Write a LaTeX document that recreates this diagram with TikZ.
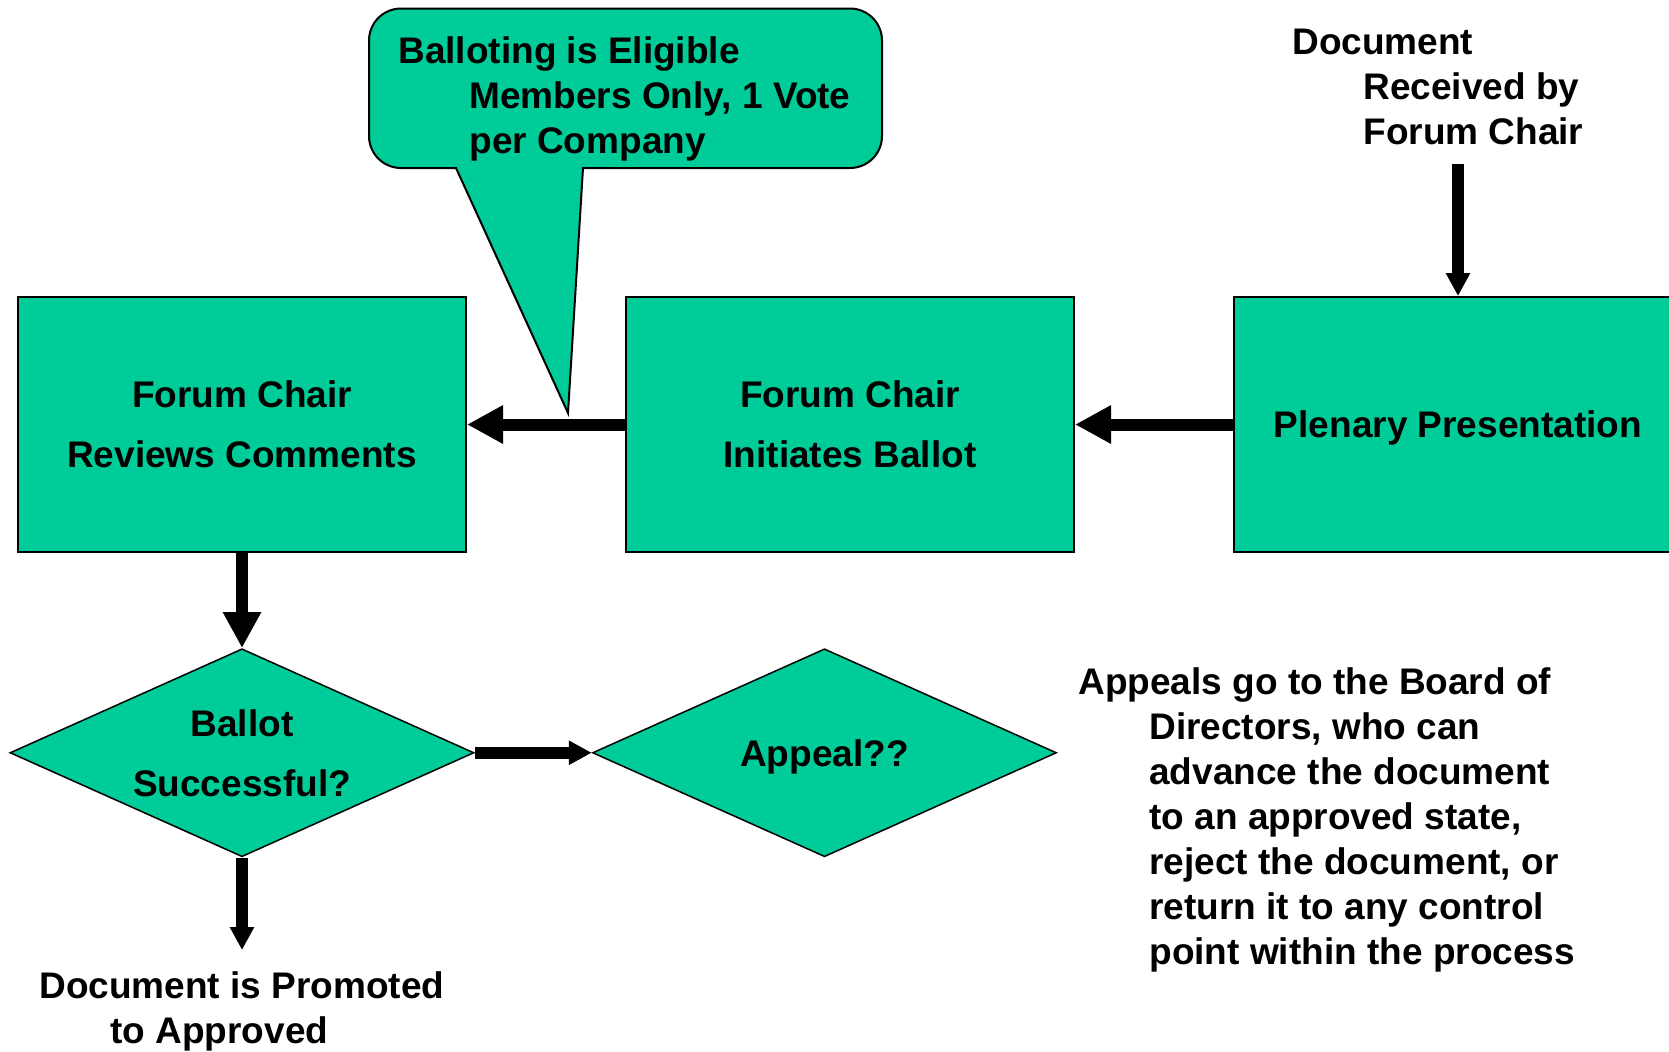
\documentclass[tikz,border=0pt]{standalone}
\usepackage{fontspec}
\setmainfont{Liberation Sans}
\usetikzlibrary{positioning}
\usetikzlibrary{calc}
\usetikzlibrary{shapes.geometric}
\usetikzlibrary{arrows.meta}
\definecolor{forumgreen}{HTML}{00CC99}
\newcommand{\hgap}{\hspace*{35.5pt}}

\begin{document}
\begin{tikzpicture}[x=0.5pt,y=-0.5pt,font=\bfseries\fontsize{18.5}{22.5}\selectfont,
	cbox/.style={rectangle,draw=black,fill=forumgreen,line width=1pt,minimum width=224pt,minimum height=127.5pt,align=center,text depth=0pt,font=\bfseries\fontsize{18.5}{30}\selectfont},
	cdec/.style={diamond,aspect=2.23,draw=black,fill=forumgreen,line width=0.75pt,minimum width=232pt,minimum height=104pt,inner sep=0pt,align=center,text depth=0pt,font=\bfseries\fontsize{18.5}{30}\selectfont},
	hang/.style={anchor=north west,inner sep=0pt,align=left},
	bigarrow/.style={line width=6pt,-{Triangle[width=18pt,length=18pt]}},
	smallarrow/.style={line width=6pt,-{Triangle[width=11.5pt,length=11.5pt]}},
	node distance = 47.5pt and 79pt]
		\useasboundingbox (0,0) rectangle (1669,1051);
		\clip (0,0) rectangle (1669,1051);
		\node[cbox] (reviews) at (242,424.5){Forum Chair\\Reviews Comments};
		\node[cbox] (initiates)[right = of reviews]{Forum Chair\\Initiates Ballot};
		\node[cbox] (plenary)[right = of initiates]{Plenary Presentation};
		\node[cdec] (ballot)[below = of reviews]{Ballot\\Successful?};
		\node[cdec] (appeal)[right = 58.5pt of ballot]{Appeal??};
		\draw[draw=black,fill=forumgreen,line width=1pt] (568,413) -- (583,168) [rounded corners=16pt] -- (882,168) -- (882,8.5) -- (369,8.5) -- (369,168) [sharp corners] -- (456,168) -- cycle;
		\node[hang] (eligible) at (398,36){Balloting is Eligible\\\hgap Members Only, 1 Vote\\\hgap per Company};
		\node[hang] (recv) at (1292,29){Document\\\hgap Received by\\\hgap Forum Chair};
		\node[hang] (appeals) at (1078,667){Appeals go to the Board of\\\hgap Directors, who can\\\hgap advance the document\\\hgap to an approved state,\\\hgap reject the document, or\\\hgap return it to any control\\\hgap point within the process};
		\node[hang] (promoted) at (39,971){Document is Promoted\\\hgap to Approved};
		\draw[bigarrow] (plenary) -- (initiates);
		\draw[bigarrow] (initiates) -- (reviews);
		\draw[bigarrow] (reviews) -- (ballot);
		\draw[smallarrow] (ballot) -- (appeal);
		\draw[smallarrow,shorten <=9.25pt] (recv.south -| plenary.north) -- (plenary.north);
		\draw[smallarrow,shorten >=10.5pt] (ballot.south) -- (ballot.south |- promoted.north);
	\end{tikzpicture}
\end{document}
